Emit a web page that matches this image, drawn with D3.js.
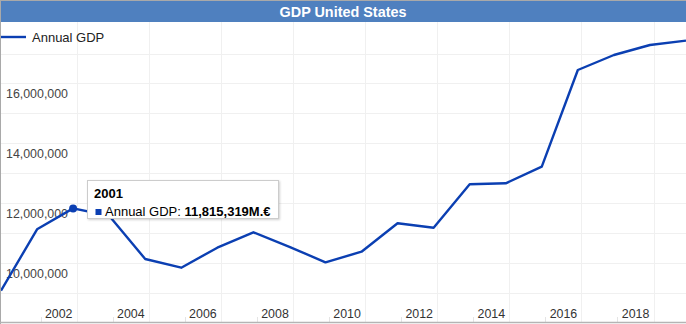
<!DOCTYPE html>
<html>
<head>
<meta charset="utf-8">
<script src="https://cdn.jsdelivr.net/npm/d3@7"></script>
<style>
  html, body { margin: 0; padding: 0; background: #fff; }
  svg { display: block; font-family: "Liberation Sans", Arial, sans-serif; }
</style>
</head>
<body>
<div id="chart"></div>
<script>
// ---- data (millions of €) ----
const title = "GDP United States";
const seriesName = "Annual GDP";
const years = [1999, 2000, 2001, 2002, 2003, 2004, 2005, 2006, 2007, 2008,
               2009, 2010, 2011, 2012, 2013, 2014, 2015, 2016, 2017, 2018];
const gdp = [9060000, 11115000, 11815319, 11570000, 10121000, 9830000, 10500000, 11015000, 10530000, 10010000,
             10366000, 11316000, 11169000, 12622000, 12655000, 13211000, 16448000, 16950000, 17285000, 17430000];
const xTickLabels = [2002, 2004, 2006, 2008, 2010, 2012, 2014, 2016, 2018];
const yTickLabels = [10000000, 12000000, 14000000, 16000000];
const tooltipYear = 2001;

// ---- layout ----
const W = 686, H = 324;
const blue = "#0b3fb2";
const svg = d3.select("#chart").append("svg").attr("width", W).attr("height", H);

const x = d3.scaleLinear().domain([1999, 2018]).range([1, 686]);
const y = d3.scaleLinear().domain([9000000, 17000000]).range([292.5, 53.5]);

// background
svg.append("rect").attr("width", W).attr("height", H).attr("fill", "#fff");

// horizontal gridlines every 1M
const gridVals = d3.range(9000000, 17000001, 1000000);
svg.append("g").selectAll("line").data(gridVals).join("line")
  .attr("x1", 1).attr("x2", W)
  .attr("y1", d => Math.round(y(d)) + 0.5).attr("y2", d => Math.round(y(d)) + 0.5)
  .attr("stroke", "#f0f0f0").attr("stroke-width", 1);

// vertical gridlines
svg.append("g").selectAll("line").data(xTickLabels).join("line")
  .attr("x1", d => Math.round(x(d - 0.9)) + 0.5).attr("x2", d => Math.round(x(d - 0.9)) + 0.5)
  .attr("y1", 22).attr("y2", 322)
  .attr("stroke", "#f0f0f0").attr("stroke-width", 1);

// small bottom ticks
svg.append("g").selectAll("line").data(xTickLabels).join("line")
  .attr("x1", d => Math.round(x(d - 1.9)) + 0.5).attr("x2", d => Math.round(x(d - 1.9)) + 0.5)
  .attr("y1", 317).attr("y2", 322)
  .attr("stroke", "#e4e4e4").attr("stroke-width", 1);

// x labels
svg.append("g").selectAll("text").data(xTickLabels).join("text")
  .attr("x", d => x(d - 1.4)).attr("y", 317.5)
  .attr("text-anchor", "middle")
  .attr("font-size", "12.4px").attr("fill", "#333")
  .text(d => d);

// y labels
const fmt = d3.format(",");
svg.append("g").selectAll("text").data(yTickLabels).join("text")
  .attr("x", 6).attr("y", d => y(d) + 15)
  .attr("font-size", "12.4px").attr("fill", "#444")
  .text(d => fmt(d));

// line
const pts = years.map((yr, i) => [yr, gdp[i]]);
svg.append("path").datum(pts)
  .attr("d", d3.line().x(d => x(d[0])).y(d => y(d[1])))
  .attr("fill", "none").attr("stroke", blue).attr("stroke-width", 2.4)
  .attr("stroke-linejoin", "round");

// title bar
svg.append("rect").attr("x", 0).attr("y", 0).attr("width", W).attr("height", 22).attr("fill", "#4f80bf");
svg.append("line").attr("x1", 0).attr("x2", W).attr("y1", 0.5).attr("y2", 0.5).attr("stroke", "#a9a9a9");
svg.append("text").attr("x", W / 2).attr("y", 16.5).attr("text-anchor", "middle")
  .attr("font-size", "14.4px").attr("font-weight", "bold").attr("fill", "#fff").text(title);

// legend
svg.append("line").attr("x1", 0).attr("x2", 26).attr("y1", 37).attr("y2", 37)
  .attr("stroke", blue).attr("stroke-width", 2.4);
svg.append("text").attr("x", 32).attr("y", 41.6).attr("font-size", "13px").attr("fill", "#222").text(seriesName);

// borders
svg.append("line").attr("x1", 0.5).attr("x2", 0.5).attr("y1", 0).attr("y2", H).attr("stroke", "#a9a9a9");
svg.append("line").attr("x1", 0).attr("x2", W).attr("y1", 322.5).attr("y2", 322.5).attr("stroke", "#b4b4b4").attr("stroke-width", 1.5);

// tooltip
const ti = years.indexOf(tooltipYear);
const px = x(years[ti]), py = y(gdp[ti]);
svg.append("circle").attr("cx", px).attr("cy", py).attr("r", 4).attr("fill", blue);

const defs = svg.append("defs");
const f = defs.append("filter").attr("id", "sh").attr("x", "-10%").attr("y", "-10%").attr("width", "130%").attr("height", "140%");
f.append("feDropShadow").attr("dx", 1).attr("dy", 1).attr("stdDeviation", 1.2).attr("flood-color", "#000").attr("flood-opacity", 0.18);

const tg = svg.append("g").attr("transform", `translate(${Math.round(px + 14)},180)`);
tg.append("rect").attr("x", 0.5).attr("y", 0.5).attr("width", 191).attr("height", 38)
  .attr("fill", "#fff").attr("stroke", "#cccccc").attr("filter", "url(#sh)");
tg.append("text").attr("x", 7).attr("y", 18).attr("font-size", "13px").attr("font-weight", "bold").attr("fill", "#000").text(tooltipYear);
tg.append("rect").attr("x", 8.5).attr("y", 29).attr("width", 6).attr("height", 6).attr("fill", blue);
const tt = tg.append("text").attr("x", 18).attr("y", 36).attr("font-size", "13px").attr("fill", "#000");
tt.append("tspan").text(seriesName + ": ");
tt.append("tspan").attr("font-weight", "bold").text(fmt(gdp[ti]) + "M.€");
</script>
</body>
</html>
